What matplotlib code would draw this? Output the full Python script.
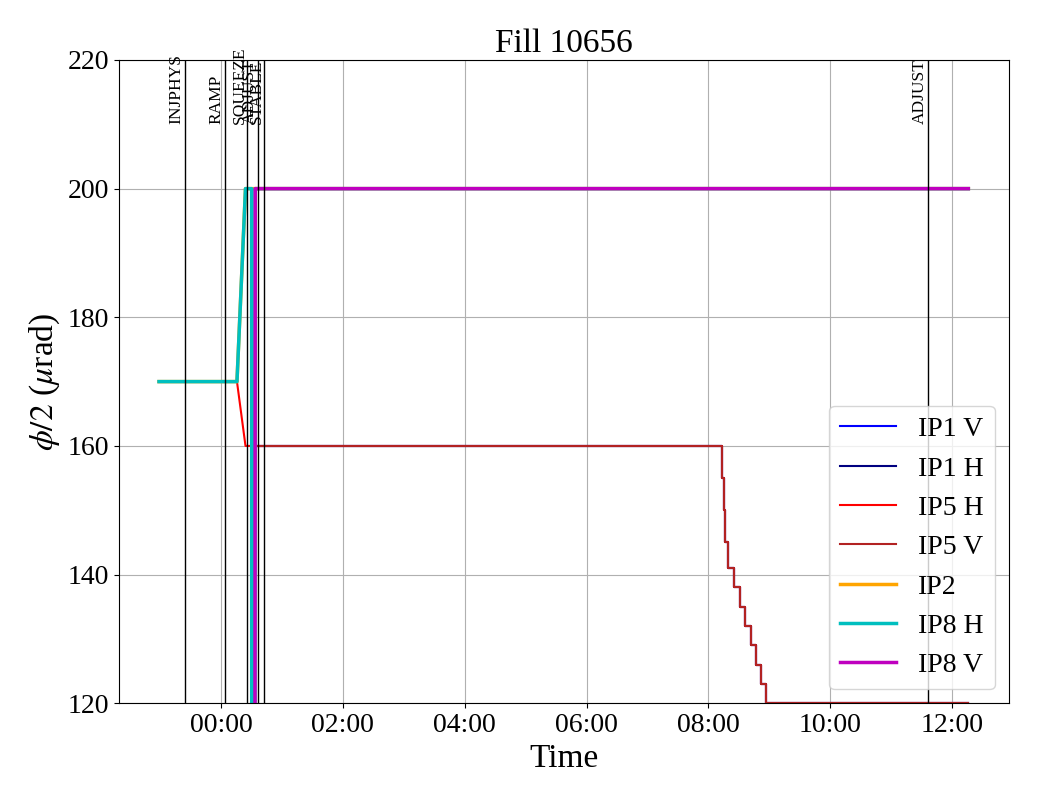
import datetime as dt
import matplotlib
matplotlib.use("Agg")
import matplotlib.pyplot as plt
import matplotlib.dates as mdates

plt.rcParams['font.family'] = ['Liberation Serif', 'DejaVu Serif']
plt.rcParams['mathtext.fontset'] = 'stix'

base = dt.datetime(2025, 5, 20)

# times in hours relative to midnight, values in urad
ip8h_t = [-1.02, 0.26, 0.40, 0.50, 0.51, 0.54, 0.56, 12.27]
ip8h_v = [170, 170, 200, 200, -200, -200, 200, 200]
ip2_t = [-1.02, 0.26, 0.40, 0.56, 12.27]
ip2_v = [170, 170, 200, 200, 200]
ip8v_t = [0.54, 0.56, 12.27]
ip8v_v = [-200, 200, 200]

ip5h_t = [-1.02, 0.26, 0.40, 0.50]
ip5h_v = [170, 170, 160, 160]

step_t = [0.50, 8.22, 8.26, 8.28, 8.32, 8.42, 8.52, 8.60, 8.70, 8.78, 8.86, 8.95, 12.27]
step_v = [160, 155, 150, 145, 141, 138, 135, 132, 129, 126, 123, 120, 120]

modes = ['INJPHYS', 'RAMP', 'SQUEEZE', 'ADJUST', 'STABLE', 'ADJUST']
mode_t = [-0.60, 0.06, 0.43, 0.60, 0.71, 11.61]


def to_dt(hours):
    return [base + dt.timedelta(hours=h) for h in hours]


fig, ax = plt.subplots(figsize=(10.4, 8), dpi=100)
fig.subplots_adjust(left=0.114, right=0.970, top=0.925, bottom=0.121)

ax.plot(to_dt(step_t), step_v, color='blue', lw=1.5, drawstyle='steps-post', label='IP1 V')
ax.plot(to_dt(step_t), step_v, color='navy', lw=1.5, drawstyle='steps-post', label='IP1 H')
ax.plot(to_dt(ip5h_t), ip5h_v, color='red', lw=1.5, label='IP5 H')
ax.plot(to_dt(step_t), step_v, color='red', lw=1.5, drawstyle='steps-post')
ax.plot(to_dt(step_t), step_v, color='firebrick', lw=1.5, drawstyle='steps-post', label='IP5 V')
ax.plot(to_dt(ip2_t), ip2_v, color='orange', lw=2.5, label='IP2')
ax.plot(to_dt(ip8h_t), ip8h_v, color='c', lw=2.5, label='IP8 H')
ax.plot(to_dt(ip8v_t), ip8v_v, color='m', lw=2.5, label='IP8 V')

ax.set_ylim(120, 220)
for name, t in zip(modes, mode_t):
    x = base + dt.timedelta(hours=t)
    ax.axvline(x, color='black', lw=1)
    ax.text(x, 210, name, rotation=90, ha='right', va='bottom', fontsize=12.5)

ax.xaxis.set_major_locator(mdates.HourLocator(byhour=range(0, 24, 2)))
ax.xaxis.set_major_formatter(mdates.DateFormatter('%H:%M'))
ax.tick_params(labelsize=20)
ax.set_xlabel('Time', fontsize=24)
ax.set_ylabel(r'$\phi/2$ ($\mu$rad)', fontsize=24)
ax.set_title('Fill 10656', fontsize=24)
ax.grid()
ax.legend(loc='lower right', fontsize=20)

fig.savefig('out.png')
